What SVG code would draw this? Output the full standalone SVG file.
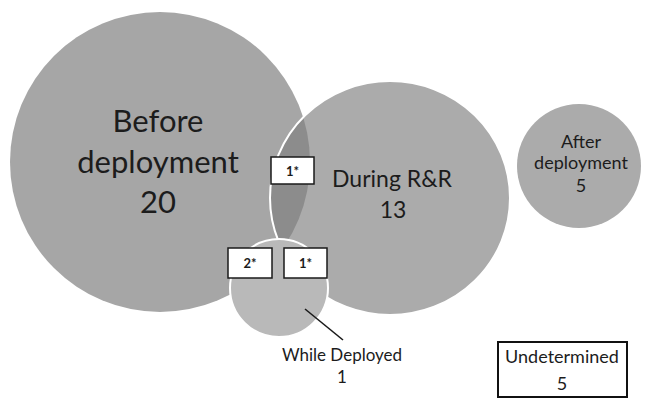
<svg xmlns="http://www.w3.org/2000/svg" width="645" height="401" viewBox="0 0 645 401">
  <defs>
    <style>
      .lbl { font-family: Lato, "Liberation Sans", sans-serif; fill: #1c1c1c; text-anchor: middle; }
      .box { fill: #ffffff; stroke: #1a1a1a; stroke-width: 1.5; }
      .star { font-family: Lato, "Liberation Sans", sans-serif; fill: #1c1c1c; text-anchor: middle; font-size: 13px; font-weight: bold; }
    </style>
    <clipPath id="clipBig">
      <circle cx="160" cy="162" r="150"/>
    </clipPath>
  </defs>
  <rect x="0" y="0" width="645" height="401" fill="#ffffff"/>

  <g id="before">
    <circle cx="160" cy="162" r="150" fill="#a6a6a6"/>
  </g>

  <g id="during">
    <ellipse cx="390" cy="198" rx="120" ry="117" fill="#ababab"/>
    <ellipse cx="390" cy="198" rx="120" ry="117" fill="#8c8c8c" clip-path="url(#clipBig)"/>
    <ellipse cx="390" cy="198" rx="120" ry="117" fill="none" stroke="#ffffff" stroke-width="2"/>
  </g>

  <g id="while">
    <circle cx="279" cy="288" r="49" fill="#b9b9b9" stroke="#ffffff" stroke-width="2"/>
  </g>

  <g id="after">
    <circle cx="579" cy="166" r="62" fill="#ababab"/>
  </g>

  <g id="connectors">
    <line x1="305" y1="309" x2="343" y2="340" stroke="#1a1a1a" stroke-width="1.6"/>
  </g>

  <g id="before-label">
    <text class="lbl" x="158" y="132" font-size="31">Before</text>
    <text class="lbl" x="158" y="173" font-size="31">deployment</text>
    <text class="lbl" x="158" y="213" font-size="31">20</text>
  </g>

  <g id="during-label">
    <text class="lbl" x="392" y="187" font-size="23">During R&amp;R</text>
    <text class="lbl" x="393" y="218" font-size="23">13</text>
  </g>

  <g id="after-label">
    <text class="lbl" x="581" y="148" font-size="18">After</text>
    <text class="lbl" x="581" y="169" font-size="18">deployment</text>
    <text class="lbl" x="581" y="192" font-size="18">5</text>
  </g>

  <g id="while-label">
    <text class="lbl" x="342" y="361" font-size="17">While Deployed</text>
    <text class="lbl" x="342" y="383" font-size="17">1</text>
  </g>

  <g id="box-1a">
    <rect class="box" x="271" y="157" width="43" height="27"/>
    <text class="star" x="292.5" y="176">1*</text>
  </g>
  <g id="box-2">
    <rect class="box" x="228" y="248" width="44" height="30"/>
    <text class="star" x="250" y="268">2*</text>
  </g>
  <g id="box-1b">
    <rect class="box" x="284" y="248" width="43" height="30"/>
    <text class="star" x="305.5" y="268">1*</text>
  </g>

  <g id="undetermined">
    <rect x="498" y="342" width="129" height="55" fill="#ffffff" stroke="#111111" stroke-width="2"/>
    <text class="lbl" x="562" y="363" font-size="18">Undetermined</text>
    <text class="lbl" x="562" y="390" font-size="18">5</text>
  </g>
</svg>
